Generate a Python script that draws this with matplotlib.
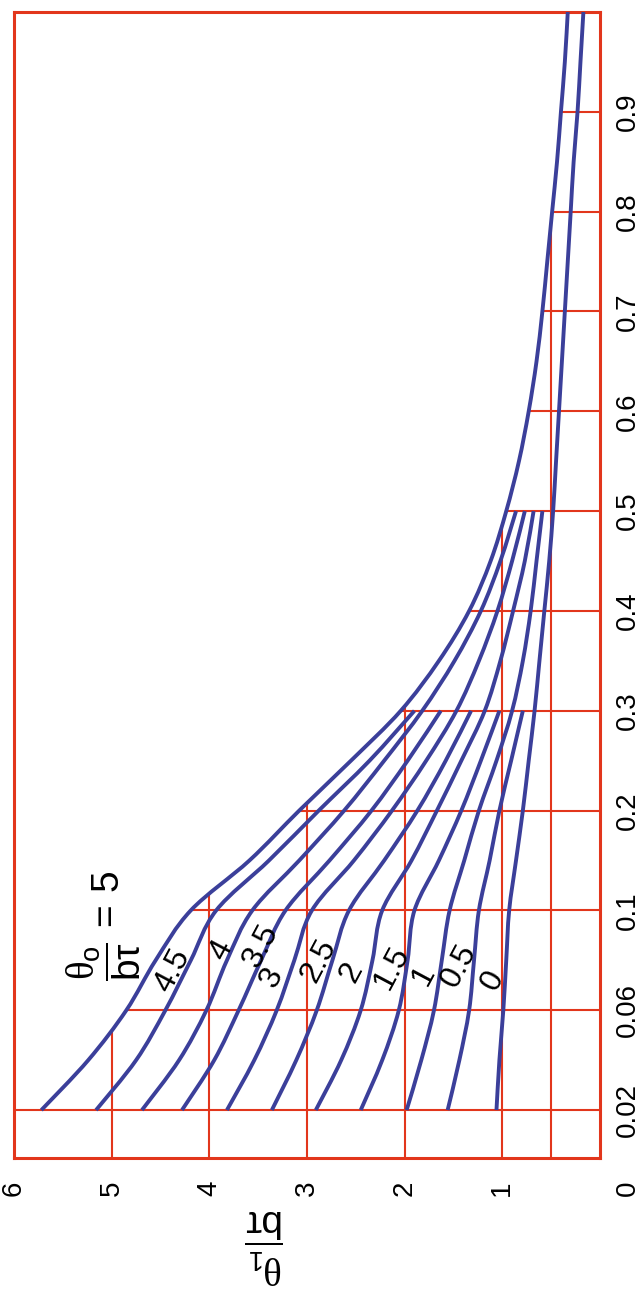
import numpy as np
import matplotlib
matplotlib.use("Agg")
import matplotlib.pyplot as plt
from matplotlib.path import Path
from matplotlib.patches import PathPatch

plt.rcParams['font.family'] = ['Liberation Sans', 'DejaVu Sans']
plt.rcParams['mathtext.fontset'] = 'custom'
plt.rcParams['mathtext.rm'] = 'Liberation Serif'
plt.rcParams['mathtext.sf'] = 'Liberation Sans'
plt.rcParams['mathtext.it'] = 'Liberation Sans:italic'

RED = '#e2361c'
BLUE = '#3b3f9a'

# relative time (vertical axis) and its tick labels
x_ticks = [0.02, 0.06, 0.1, 0.2, 0.3, 0.4, 0.5, 0.6, 0.7, 0.8, 0.9]
x_tick_labels = ['0.02', '0.06', '0.1', '0.2', '0.3', '0.4', '0.5',
                 '0.6', '0.7', '0.8', '0.9']
# breakpoints of the stretched time axis (each tick interval drawn equally)
x_knots = [0.0, 0.02, 0.06, 0.1, 0.2, 0.3, 0.4, 0.5, 0.6, 0.7, 0.8, 0.9, 1.0]

# temperature ratio (horizontal axis) ticks
ratio_ticks = [1, 2, 3, 4, 5, 6]
ratio_tick_labels = ['1', '2', '3', '4', '5', '6']

# time samples at which the curves were read
x_samples = [0.02, 0.04, 0.06, 0.08, 0.1, 0.15, 0.2, 0.25, 0.3, 0.35, 0.4,
             0.45, 0.5, 0.55, 0.6, 0.65, 0.7, 0.75, 0.8, 0.85, 0.9, 0.95, 1.0]

# theta_1 / (b tau) for each value of theta_o / (b tau)
ratio_5 = [5.72, 5.24, 4.85, 4.55, 4.19, 3.59, 3.08, 2.55, 2.04, 1.65, 1.34,
           1.12, 0.96, 0.83, 0.73, 0.65, 0.59, 0.54, 0.49, 0.44, 0.40, 0.36, 0.33]
ratio_4_5 = [5.16, 4.75, 4.45, 4.19, 3.93, 3.39, 2.88, 2.36, 1.90]
ratio_4 = [4.69, 4.31, 4.03, 3.82, 3.56, 3.08, 2.62, 2.21, 1.82, 1.49, 1.22,
           1.02, 0.86]
ratio_3_5 = [4.28, 3.95, 3.70, 3.47, 3.22, 2.77, 2.34, 1.97, 1.63]
ratio_3 = [3.82, 3.54, 3.31, 3.13, 2.95, 2.52, 2.13, 1.78, 1.47, 1.24, 1.05,
           0.90, 0.77]
ratio_2_5 = [3.36, 3.11, 2.90, 2.74, 2.57, 2.21, 1.87, 1.58, 1.32]
ratio_2 = [2.91, 2.65, 2.45, 2.33, 2.23, 1.93, 1.67, 1.42, 1.18, 1.02, 0.89,
           0.77, 0.68]
ratio_1_5 = [2.45, 2.23, 2.06, 1.97, 1.90, 1.65, 1.42, 1.22, 1.03]
ratio_1 = [1.98, 1.83, 1.70, 1.62, 1.54, 1.39, 1.24, 1.06, 0.90, 0.79, 0.71,
           0.65, 0.59]
ratio_0_5 = [1.56, 1.44, 1.34, 1.29, 1.24, 1.13, 1.03, 0.91, 0.79]
ratio_0 = [1.06, 1.03, 0.99, 0.96, 0.93, 0.86, 0.79, 0.73, 0.67, 0.62, 0.57,
           0.52, 0.48, 0.45, 0.42, 0.39, 0.36, 0.33, 0.30, 0.27, 0.23, 0.20, 0.17]

curves = [ratio_5, ratio_4_5, ratio_4, ratio_3_5, ratio_3, ratio_2_5,
          ratio_2, ratio_1_5, ratio_1, ratio_0_5, ratio_0]
curve_labels = ['4.5', '4', '3.5', '3', '2.5', '2', '1.5', '1', '0.5', '0']

# vertical grid lines (in theta_1 / b tau)
ratio_grid = [0.5, 1, 2, 3, 4, 5]

# ---------------------------------------------------------------- figure
fig = plt.figure(figsize=(6.41, 12.90), dpi=100)
ax = fig.add_axes([14 / 641, 132 / 1290, 586 / 641, 1146 / 1290])

u_knots = np.concatenate([[0.0], 0.48 + np.arange(len(x_knots) - 1)])


def fwd(v):
    return np.interp(v, x_knots, u_knots)


def inv(u):
    return np.interp(u, u_knots, x_knots)


ax.set_yscale('function', functions=(fwd, inv))
ax.set_xlim(6, 0)
ax.set_ylim(0, 1.0)

# grid, clipped by the outermost curve
grid_kw = dict(color=RED, lw=1.5, zorder=1)
xs = np.array(x_samples)
r5 = np.array(ratio_5)
ax.hlines(x_ticks[0], 0, 6, **grid_kw)
for xv in x_ticks[1:]:
    ax.hlines(xv, 0, np.interp(xv, xs, r5), **grid_kw)
for rv in ratio_grid:
    top = np.interp(rv, r5[::-1], xs[::-1])
    ax.vlines(rv, 0, top, **grid_kw)

for sp in ax.spines.values():
    sp.set_color(RED)
    sp.set_linewidth(2.2)


def smooth_path(r_vals, x_vals):
    """Cubic Bezier path through the read points (Catmull-Rom tangents,
    taken in the stretched axis coordinate)."""
    r = np.asarray(r_vals, float)
    u = fwd(np.asarray(x_vals, float))
    pts = np.column_stack([r, u])
    ext = np.vstack([pts[0], pts, pts[-1]])
    verts = [pts[0]]
    codes = [Path.MOVETO]
    for i in range(len(pts) - 1):
        p0, p1, p2, p3 = ext[i], ext[i + 1], ext[i + 2], ext[i + 3]
        c1 = p1 + (p2 - p0) / 6.0
        c2 = p2 - (p3 - p1) / 6.0
        verts += [c1, c2, p2]
        codes += [Path.CURVE4] * 3
    verts = np.array(verts)
    verts[:, 1] = inv(verts[:, 1])
    return Path(verts, codes)


for vals in curves:
    patch = PathPatch(smooth_path(vals, x_samples[:len(vals)]),
                      facecolor='none', edgecolor=BLUE, lw=2.8,
                      capstyle='butt', joinstyle='round', zorder=3)
    ax.add_patch(patch)

# ticks
ax.set_xticks(ratio_ticks, ratio_tick_labels)
ax.yaxis.tick_right()
ax.set_yticks(x_ticks, x_tick_labels)
ax.yaxis.set_minor_locator(matplotlib.ticker.NullLocator())
ax.tick_params(axis='x', length=0, pad=16, labelsize=20, labelrotation=90)
ax.tick_params(axis='y', length=0, pad=11, labelsize=20, labelrotation=90)
for lbl in ax.get_yticklabels():
    lbl.set_va('center')
ax.annotate('0', xy=(1, 0), xycoords='axes fraction', xytext=(11, -16),
            textcoords='offset points', ha='left', va='top', rotation=90,
            fontsize=20)

# curve labels
label_pos = [(4.38, 0.076), (3.88, 0.084), (3.47, 0.086), (3.36, 0.073),
             (2.88, 0.080), (2.54, 0.075), (2.13, 0.077), (1.80, 0.074),
             (1.44, 0.078), (1.10, 0.072)]
for txt, (r, xv) in zip(curve_labels, label_pos):
    ax.text(r, xv, txt, rotation=62, fontsize=23, ha='center', va='center',
            zorder=4)

ax.text(5.08, 0.094,
        r'$\dfrac{\mathrm{θ}_{\mathsf{o}}}{\mathsf{b}\mathsf{τ}}\mathsf{\,=\,5}$',
        rotation=90, fontsize=28, ha='center', va='center', zorder=4)

# axis title
ax.text(0.428, -0.077,
        r'$\dfrac{\mathrm{θ}_{\mathsf{1}}}{\mathsf{b}\mathsf{τ}}$',
        transform=ax.transAxes, rotation=180, fontsize=28,
        ha='center', va='center')

fig.savefig('out.png', dpi=100)
